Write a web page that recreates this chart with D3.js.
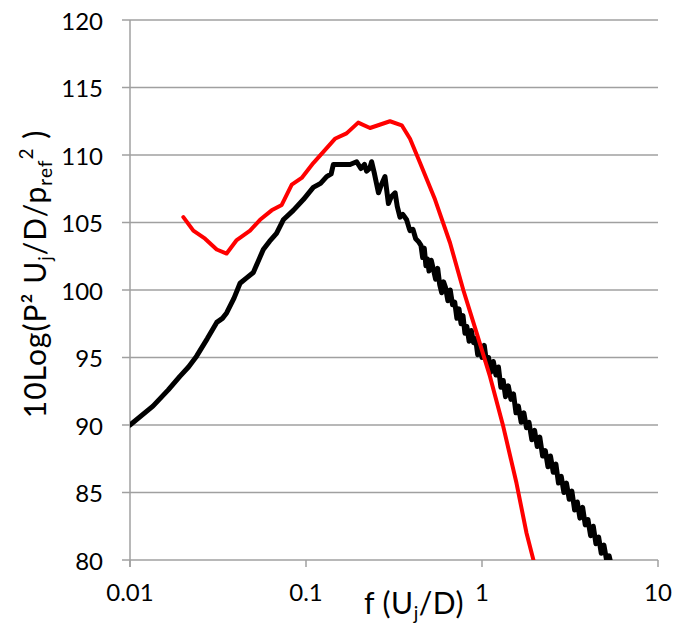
<!DOCTYPE html>
<html>
<head>
<meta charset="utf-8">
<script src="https://cdn.jsdelivr.net/npm/d3@7"></script>
<style>
  html, body { margin: 0; padding: 0; background: #fff; }
  svg { display: block; font-family: Lato, "Open Sans", "Liberation Sans", sans-serif; }
</style>
</head>
<body>
<svg id="chart" width="679" height="626"></svg>
<script>
// ---- Data ----
const yTicks = [80, 85, 90, 95, 100, 105, 110, 115, 120];
const xTicks = [0.01, 0.1, 1, 10];
const xTickLabels = ["0.01", "0.1", "1", "10"];

// Measured spectrum (black)
const measuredF = [
  0.01, 0.0135, 0.0165, 0.0192, 0.0215, 0.0239, 0.0275, 0.0311, 0.0335, 0.0354, 0.039, 0.0422, 0.046, 0.0502,
  0.0572, 0.062, 0.068, 0.0743, 0.0847, 0.0966, 0.110, 0.121, 0.131, 0.139, 0.143, 0.16, 0.178, 0.194,
  0.205, 0.215, 0.221, 0.23, 0.236, 0.245, 0.258, 0.268, 0.281, 0.294, 0.305, 0.321, 0.33, 0.342, 0.355,
  0.373, 0.385, 0.39, 0.405, 0.42, 0.435,
  0.45, 0.46, 0.47, 0.48, 0.49, 0.50, 0.515, 0.53, 0.545, 0.56, 0.575, 0.59, 0.605, 0.62, 0.64, 0.66,
  0.68, 0.70, 0.72, 0.74, 0.76, 0.78, 0.80, 0.82, 0.845, 0.87, 0.895, 0.92, 0.945, 0.97,
  1.0, 1.03, 1.06, 1.09, 1.12, 1.16, 1.20, 1.24, 1.28, 1.32, 1.36, 1.41, 1.46, 1.51, 1.56, 1.61,
  1.67, 1.73, 1.79, 1.85, 1.92, 1.99, 2.06, 2.13, 2.21, 2.29, 2.37, 2.45, 2.54, 2.63, 2.72, 2.82,
  2.92, 3.02, 3.13, 3.24, 3.36, 3.48, 3.60, 3.73, 3.86, 4.00, 4.14, 4.29, 4.44, 4.60, 4.76, 4.93,
  5.10, 5.28, 5.45
];
const measuredL = [
  90.0, 91.4, 92.6, 93.6, 94.3, 95.1, 96.4, 97.6, 97.9, 98.3, 99.4, 100.5, 100.9, 101.3,
  103.0, 103.6, 104.2, 105.2, 105.9, 106.7, 107.6, 107.9, 108.4, 108.6, 109.3, 109.3, 109.3, 109.5,
  109.0, 109.3, 108.8, 109.0, 109.5, 108.6, 107.2, 107.8, 108.4, 106.4, 106.9, 107.2, 106.2, 105.4, 105.6,
  105.2, 104.6, 104.4, 104.5, 103.8, 103.6,
  103.3, 102.4, 103.1, 101.8, 102.3, 101.4, 102.2, 101.5, 100.8, 101.6, 100.4, 99.8, 100.6, 100.2, 99.2, 100.0,
  98.9, 99.1, 97.9, 98.6, 97.5, 98.1, 96.8, 97.3, 96.2, 97.0, 96.1, 96.4, 95.2, 95.9,
  95.0, 95.9, 94.7, 95.0, 93.9, 94.7, 93.7, 94.3, 92.8, 93.3, 92.1, 92.9, 91.9, 92.3, 90.9, 91.4,
  90.2, 90.9, 89.8, 90.2, 88.9, 89.6, 88.4, 89.1, 87.7, 88.1, 86.9, 87.7, 86.5, 87.1, 85.7, 86.2,
  85.0, 85.7, 84.5, 85.1, 83.7, 84.3, 83.1, 83.9, 82.6, 83.0, 81.8, 82.5, 81.2, 81.7, 80.5, 81.1,
  80.0, 80.3, 79.5
];

// Model spectrum (red)
const modelF = [
  0.0201, 0.0229, 0.0267, 0.0311, 0.0354, 0.0404, 0.0481, 0.0548, 0.0638, 0.0728, 0.083, 0.0945, 0.110,
  0.146, 0.170, 0.198, 0.231, 0.300, 0.35, 0.39, 0.445, 0.541, 0.658, 0.783, 0.933, 1.11, 1.32, 1.57, 1.79, 1.96
];
const modelL = [
  105.4, 104.4, 103.8, 103.0, 102.7, 103.7, 104.4, 105.2, 105.9, 106.3, 107.8, 108.3, 109.4,
  111.2, 111.6, 112.4, 112.0, 112.5, 112.2, 111.2, 109.4, 106.7, 103.5, 100.0, 96.8, 93.6, 89.9, 85.7, 82.0, 80.0
];

// ---- Chart ----
const svg = d3.select("#chart");
const pLeft = 130, pRight = 658, pTop = 20, pBottom = 560;

const x = d3.scaleLog().domain([0.01, 10]).range([pLeft, pRight]);
const y = d3.scaleLinear().domain([80, 120]).range([pBottom, pTop]);

const gridColor = "#a0a0a0";

// horizontal gridlines + y tick marks
svg.append("g").selectAll("line").data(yTicks).join("line")
  .attr("x1", pLeft - 8).attr("x2", pRight)
  .attr("y1", d => y(d)).attr("y2", d => y(d))
  .attr("stroke", gridColor).attr("stroke-width", 1.5);

// y axis line
svg.append("line")
  .attr("x1", pLeft).attr("x2", pLeft).attr("y1", pTop).attr("y2", pBottom + 7)
  .attr("stroke", gridColor).attr("stroke-width", 1.5);

// x tick marks
svg.append("g").selectAll("line").data(xTicks).join("line")
  .attr("x1", d => x(d)).attr("x2", d => x(d))
  .attr("y1", pBottom).attr("y2", pBottom + 7)
  .attr("stroke", gridColor).attr("stroke-width", 1.5);

// y tick labels
svg.append("g").selectAll("text").data(yTicks).join("text")
  .attr("x", pLeft - 27).attr("y", d => y(d))
  .attr("text-anchor", "end").attr("dominant-baseline", "central")
  .attr("font-size", 24).attr("fill", "#000")
  .text(d => d);

// x tick labels
svg.append("g").selectAll("text").data(xTicks).join("text")
  .attr("x", d => x(d)).attr("y", 601)
  .attr("text-anchor", "middle")
  .attr("font-size", 24).attr("fill", "#000")
  .text((d, i) => xTickLabels[i]);

// clip
svg.append("clipPath").attr("id", "clip").append("rect")
  .attr("x", pLeft).attr("y", pTop - 5).attr("width", pRight - pLeft).attr("height", pBottom - pTop + 5);

const line = d3.line().x(d => x(d[0])).y(d => y(d[1]));

const measured = measuredF.map((f, i) => [f, measuredL[i]]);
const model = modelF.map((f, i) => [f, modelL[i]]);

svg.append("path").datum(measured)
  .attr("clip-path", "url(#clip)")
  .attr("d", line).attr("fill", "none")
  .attr("stroke", "#000").attr("stroke-width", 5)
  .attr("stroke-linejoin", "round").attr("stroke-linecap", "round");

svg.append("path").datum(model)
  .attr("clip-path", "url(#clip)")
  .attr("d", line).attr("fill", "none")
  .attr("stroke", "#ff0000").attr("stroke-width", 4)
  .attr("stroke-linejoin", "round").attr("stroke-linecap", "round");

// x axis title
const xt = svg.append("text")
  .attr("x", 414).attr("y", 614)
  .attr("text-anchor", "middle").attr("font-size", 30).attr("letter-spacing", 0.5).attr("fill", "#000");
xt.append("tspan").text("f (U");
xt.append("tspan").attr("font-size", 19).attr("dy", 6).text("j");
xt.append("tspan").attr("dy", -6).text("/D)");

// y axis title
const yt = svg.append("text")
  .attr("transform", "translate(46,274) rotate(-90)")
  .attr("text-anchor", "middle").attr("font-size", 30).attr("letter-spacing", 1).attr("fill", "#000");
yt.append("tspan").text("10Log(P\u00B2 U");
yt.append("tspan").attr("font-size", 19).attr("dy", 6).text("j");
yt.append("tspan").attr("dy", -6).text("/D/p");
yt.append("tspan").attr("font-size", 19).attr("dy", 6).text("ref");
yt.append("tspan").attr("font-size", 19).attr("dy", -19).text("2");
yt.append("tspan").attr("dy", 13).text(" )");
</script>
</body>
</html>
